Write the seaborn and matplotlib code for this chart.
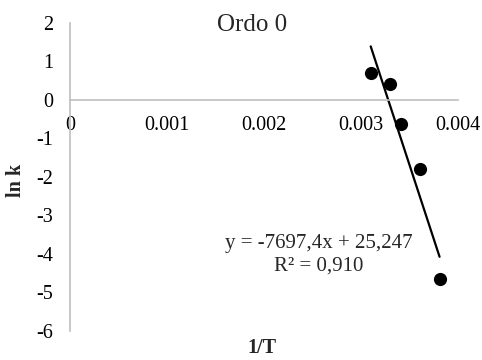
import numpy as np
import pandas as pd
import matplotlib
matplotlib.use("Agg")
import matplotlib.pyplot as plt
import seaborn as sns

# Data
inv_T = [0.00310, 0.00330, 0.00341, 0.00361, 0.00381]
ln_k = [0.70, 0.40, -0.64, -1.80, -4.67]
slope = -7697.4
intercept = 25.247
eq_text = "y = -7697,4x + 25,247\nR² = 0,910"
title = "Ordo 0"
xlabel = "1/T"
ylabel = "ln k"
xticks = [0, 0.001, 0.002, 0.003, 0.004]
xtick_labels = ["0", "0.001", "0.002", "0.003", "0.004"]
yticks = [2, 1, 0, -1, -2, -3, -4, -5, -6]

sns.set_style("white")
plt.rcParams["font.family"] = ["Liberation Serif", "DejaVu Serif"]

df = pd.DataFrame({"x": inv_T, "y": ln_k})

fig = plt.figure(figsize=(4.82, 3.60), dpi=100)
ax = fig.add_axes([70 / 482, 1 - 330.7 / 360, (458 - 70) / 482, (330.7 - 22.7) / 360])

# trendline
xs = np.array([min(inv_T), max(inv_T)])
ax.plot(xs, slope * xs + intercept, color="black", lw=1.6, zorder=2)
sns.scatterplot(data=df, x="x", y="y", ax=ax, color="black", s=90,
                edgecolor="black", linewidth=0, zorder=3, legend=False)

ax.set_xlim(0, 0.004)
ax.set_ylim(-6, 2)
ax.set_xticks(xticks)
ax.set_xticklabels(xtick_labels)
ax.set_yticks(yticks)
ax.set_yticklabels([str(v) for v in yticks])
ax.set_xlabel("")
ax.set_ylabel("")

for s in ["top", "right"]:
    ax.spines[s].set_visible(False)
ax.spines["bottom"].set_position(("data", 0))
ax.spines["bottom"].set_color("#BFBFBF")
ax.spines["left"].set_color("#BFBFBF")
ax.spines["bottom"].set_linewidth(1.2)
ax.spines["left"].set_linewidth(1.2)
ax.tick_params(axis="both", length=0, labelsize=14.5, colors="black")
ax.tick_params(axis="x", pad=12)
ax.tick_params(axis="y", pad=12)

ax.text(0.00256, -4.03, eq_text, ha="center", va="center",
        multialignment="center", fontsize=15, linespacing=1.3)

fig.text(252 / 482, 1 - 25 / 360, title, ha="center", va="center", fontsize=18)
fig.text(262 / 482, 1 - 358 / 360, xlabel, ha="center", va="bottom",
         fontsize=14.5, fontweight="bold")
fig.text(16 / 482, 1 - 180 / 360, ylabel, ha="center", va="center",
         fontsize=14.5, fontweight="bold", rotation=90)

fig.savefig("out.png", dpi=100)
